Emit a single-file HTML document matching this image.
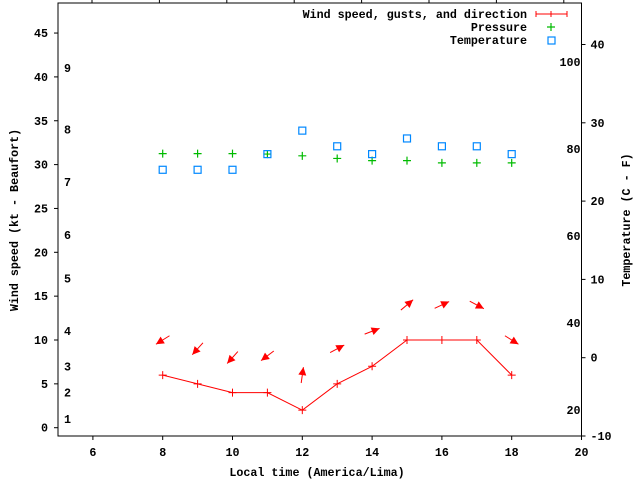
<!DOCTYPE html>
<html><head><meta charset="utf-8"><style>
body{margin:0;background:#fff}
svg text{font-family:"Liberation Mono",monospace;font-weight:bold;font-size:11.7px;fill:#000}
</style></head><body>
<svg id="chart" width="640" height="480" xmlns="http://www.w3.org/2000/svg">
<g id="g"></g>
</svg>
<script>
const hours=[8,9,10,11,12,13,14,15,16,17,18];
const windSpeed=[6,5,4,4,2,5,7,10,10,10,6];
const gusts=[10,9,8,8.2,6,9,11,14,14,14,10];
const windDir=[212,228,228,217,82,28,21,40,25,332,328];
const pressure=[31.25,31.25,31.25,31.2,31.0,30.7,30.45,30.45,30.2,30.2,30.2];
const temperature=[24,24,24,26,29,27,26,28,27,27,26];
const xTicks=[6,8,10,12,14,16,18,20];
const yTicks=[0,5,10,15,20,25,30,35,40,45];
const tTicks=[-10,0,10,20,30,40];
const fTicks=[20,40,60,80,100];
const beaufort=[[1,1],[2,4],[3,7],[4,11],[5,17],[6,22],[7,28],[8,34],[9,41]];
const L=58,R=581.5,T=3,B=436;
const X=v=>L+(v-5)/15*(R-L);
const Y=v=>427.7-v*8.77;
const TY=v=>357.7-v*7.83;
const NS="http://www.w3.org/2000/svg";
const g=document.getElementById('g');
function el(tag,attrs,txt){const e=document.createElementNS(NS,tag);for(const k in attrs)e.setAttribute(k,attrs[k]);if(txt!==undefined)e.textContent=txt;g.appendChild(e);return e;}
let e;
e=el('rect',{x:L,y:T,width:R-L,height:B-T,fill:'none',stroke:'#000','stroke-width':1});


xTicks.forEach(v=>{
 e=el('line',{x1:X(v),x2:X(v),y1:B,y2:B+4,stroke:'#000'});
 
 
 e=el('text',{x:X(v),y:B+20,'text-anchor':'middle'},String(v));
 
 
});
for(let k=0;k<8;k++){
 e=el('line',{x1:92+k*67.4,x2:92+k*67.4,y1:T,y2:T-4,stroke:'#000'});
 
 
}
yTicks.forEach(v=>{
 e=el('line',{x1:L-4,x2:L,y1:Y(v),y2:Y(v),stroke:'#000'});
 
 
 e=el('text',{x:L-10,y:Y(v)+4,'text-anchor':'end'},String(v));
 
 
});
tTicks.forEach(v=>{
 e=el('line',{x1:R,x2:R+4,y1:TY(v),y2:TY(v),stroke:'#000'});
 
 
 e=el('text',{x:R+9,y:TY(v)+4,'text-anchor':'start'},String(v));
 
 
});
fTicks.forEach(v=>{
 e=el('text',{x:R-1,y:TY((v-32)/1.8)+4,'text-anchor':'end'},String(v));
 
 
});
beaufort.forEach(b=>{
 e=el('text',{x:64,y:Y(b[1])+4},String(b[0]));
 
 
});
e=el('text',{x:317,y:476,'text-anchor':'middle'},'Local time (America/Lima)');


e=el('text',{x:18,y:220,'text-anchor':'middle',transform:'rotate(-90 18 220)'},'Wind speed (kt - Beaufort)');


e=el('text',{x:630,y:220,'text-anchor':'middle',transform:'rotate(-90 630 220)'},'Temperature (C - F)');


// wind line
e=el('polyline',{points:hours.map((h,i)=>X(h)+','+Y(windSpeed[i])).join(' '),fill:'none',stroke:'#f00','stroke-width':1});


hours.forEach((h,i)=>{
 const x=X(h),y=Y(windSpeed[i]);
 e=el('path',{d:`M${x-4},${y}H${x+4}M${x},${y-4}V${y+4}`,stroke:'#f00'});
 
 
 const gx=X(h),gy=Y(gusts[i]),a=windDir[i]*Math.PI/180,len=8;
 const dx=Math.cos(a),dy=-Math.sin(a);
 const x1=gx-dx*len,y1=gy-dy*len,x2=gx+dx*len,y2=gy+dy*len;
 const px=-dy,py=dx;
 e=el('line',{x1:x1,y1:y1,x2:x2,y2:y2,stroke:'#f00'});
 
 
 e=el('polygon',{points:`${x2},${y2} ${x2-dx*8+px*4},${y2-dy*8+py*4} ${x2-dx*8-px*4},${y2-dy*8-py*4}`,fill:'#f00'});
 
 
});
hours.forEach((h,i)=>{
 const x=X(h),y=Y(pressure[i]);
 e=el('path',{d:`M${x-4},${y}H${x+4}M${x},${y-4}V${y+4}`,stroke:'#0b0','stroke-width':1.2});
 
 
});
hours.forEach((h,i)=>{
 const x=X(h),y=TY(temperature[i]);
 e=el('rect',{x:x-3.5,y:y-3.5,width:7,height:7,fill:'none',stroke:'#08f','stroke-width':1.2});
 
 
});
// legend
e=el('text',{x:527,y:18,'text-anchor':'end'},'Wind speed, gusts, and direction');


e=el('path',{d:'M536,14H567M536,11V17M551,11V17M567,11V17',stroke:'#f00'});


e=el('text',{x:527,y:31,'text-anchor':'end'},'Pressure');


e=el('path',{d:'M547,27H555M551,23V31',stroke:'#0b0','stroke-width':1.2});


e=el('text',{x:527,y:44,'text-anchor':'end'},'Temperature');


e=el('rect',{x:548,y:37,width:7,height:7,fill:'none',stroke:'#08f','stroke-width':1.2});


</script>
</body></html>
